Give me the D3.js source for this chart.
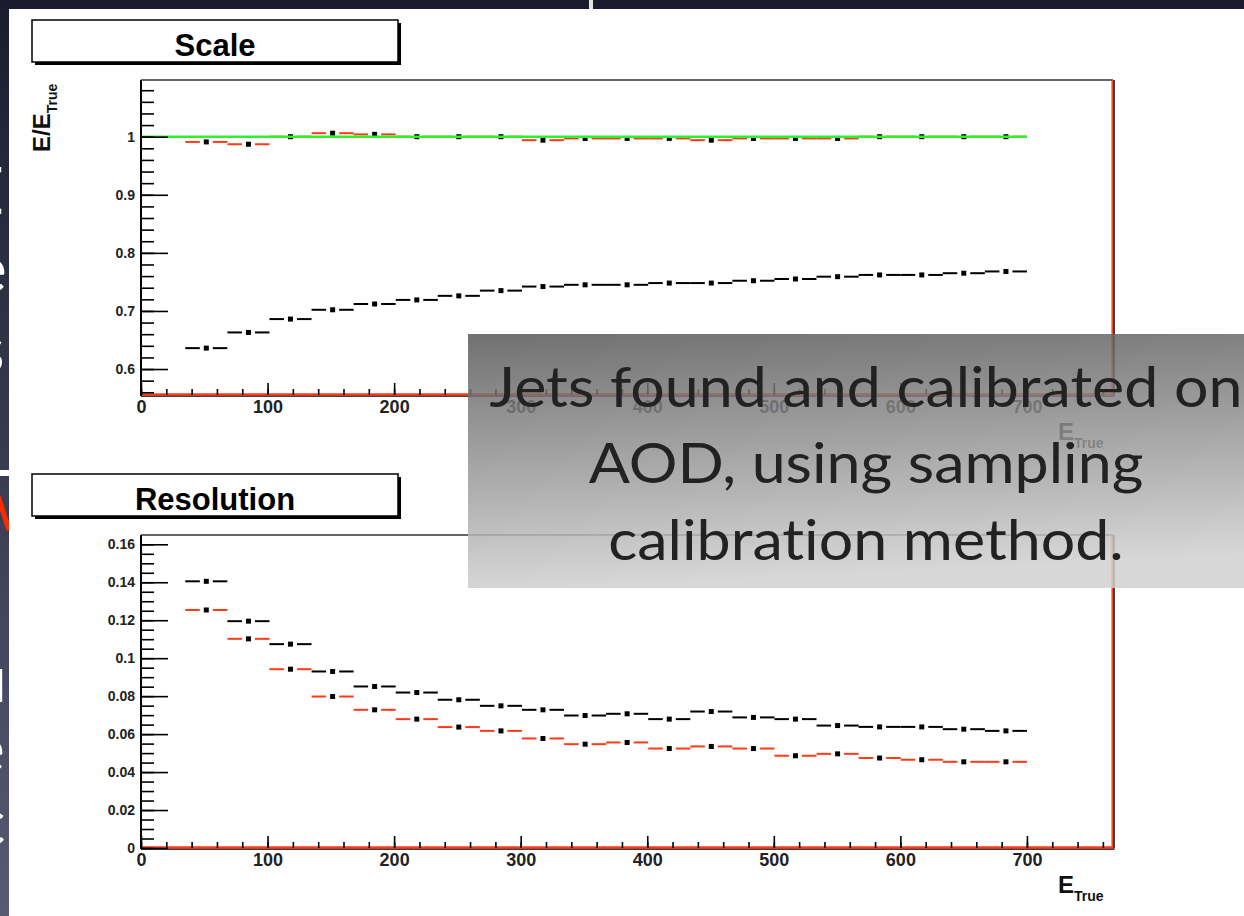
<!DOCTYPE html>
<html lang="en">
<head>
<meta charset="UTF-8">
<title>Jet energy scale and resolution</title>
<script src="https://cdn.jsdelivr.net/npm/d3@7/dist/d3.min.js"></script>
<style>
    body { margin: 0; background: #1d1f33; }
    svg { display: block; }
    .root text { font-family: "Liberation Sans", Arial, Helvetica, sans-serif; }
</style>
</head>
<body>
<script>
    // bins of E_True (centres), every bin is 33.25 wide, 35 .. 700
    const binCenters = [51.6, 84.9, 118.1, 151.4, 184.6, 217.9, 251.1, 284.4, 317.6, 350.9,
                        384.1, 417.4, 450.6, 483.9, 517.1, 550.4, 583.6, 616.9, 650.1, 683.4];
    const binWidth = 33.25;

    // Scale: E/E_True
    const scaleCalibrated = [0.991, 0.987, 1.0, 1.006, 1.004, 1.0, 1.0, 1.0, 0.994, 0.997,
                             0.997, 0.997, 0.994, 0.997, 0.997, 0.997, 1.0, 1.0, 1.0, 1.0];
    const scaleUncalibrated = [0.636, 0.663, 0.686, 0.702, 0.712, 0.719, 0.726, 0.735, 0.742, 0.745,
                               0.745, 0.748, 0.748, 0.752, 0.755, 0.759, 0.762, 0.762, 0.765, 0.768];
    const scaleReference = [{ x: 0, y: 1 }, { x: 700, y: 1 }];

    // Resolution
    const resUncalibrated = [0.1405, 0.1195, 0.1074, 0.0930, 0.0851, 0.0819, 0.0781, 0.0749, 0.0728, 0.0698,
                             0.0707, 0.0679, 0.0719, 0.0688, 0.0679, 0.0645, 0.0638, 0.0638, 0.0626, 0.0617];
    const resCalibrated = [0.1254, 0.1102, 0.0942, 0.0798, 0.0728, 0.0679, 0.0637, 0.0617, 0.0577, 0.0547,
                           0.0556, 0.0524, 0.0535, 0.0524, 0.0486, 0.0496, 0.0474, 0.0465, 0.0454, 0.0454];

    // axis ticks
    const xMajor = [0, 100, 200, 300, 400, 500, 600, 700];
    const scaleYMajor = [0.6, 0.7, 0.8, 0.9, 1];
    const resYMajor = [0, 0.02, 0.04, 0.06, 0.08, 0.1, 0.12, 0.14, 0.16];

    const noteLines = ["Jets found and calibrated on", "AOD, using sampling", "calibration method."];

    const W = 1244, H = 916;
    const RED = "#ff3a17", GREEN = "#2ef02e";

    const svg = d3.select("body").append("svg")
        .attr("width", W).attr("height", H);

    // slide background behind the pasted plots
    const defs = svg.append("defs");
    const bg = defs.append("linearGradient").attr("id", "slidebg")
        .attr("x1", 0).attr("y1", 0).attr("x2", 0).attr("y2", 1);
    bg.append("stop").attr("offset", "0%").attr("stop-color", "#1a1c2e");
    bg.append("stop").attr("offset", "100%").attr("stop-color", "#575a72");
    svg.append("rect").attr("width", W).attr("height", H).attr("fill", "url(#slidebg)");

    // bits of the slide text peeking out on the left
    const peek = [["E", -34, 214], ["e", -28, 292], ["s", -24, 372], ["u", -30, 702], ["e", -30, 772], ["c", -26, 845]];
    svg.selectAll(".peek").data(peek).enter().append("text")
        .attr("x", d => d[1]).attr("y", d => d[2])
        .text(d => d[0])
        .attr("fill", "#fff")
        .style("font-family", "Lato, sans-serif")
        .style("font-size", "66px");
    svg.append("rect").attr("x", 0).attr("y", 470).attr("width", 9).attr("height", 6).attr("fill", "#fff");
    svg.append("line").attr("x1", -2).attr("y1", 496).attr("x2", 9).attr("y2", 530)
        .attr("stroke", "#ff2a00").attr("stroke-width", 5);
    svg.append("rect").attr("x", 589).attr("y", 0).attr("width", 4).attr("height", 9).attr("fill", "#e6e6e6");

    // white pasted image
    svg.append("rect").attr("x", 9).attr("y", 9).attr("width", W - 9).attr("height", H - 9).attr("fill", "#fff");

    const x = d3.scaleLinear().domain([0, 768]).range([141, 1113]);

    function drawPanel(p) {
        const g = svg.append("g").attr("class", "root");
        const y = d3.scaleLinear().domain(p.yDomain).range([p.bottom, p.top]);

        // title box with shadow
        g.append("rect").attr("x", 35).attr("y", p.titleY + 3).attr("width", 366).attr("height", 42).attr("fill", "#000");
        g.append("rect").attr("x", 32).attr("y", p.titleY).attr("width", 366).attr("height", 42)
            .attr("fill", "#fff").attr("stroke", "#000").attr("stroke-width", 1.5);
        g.append("text").attr("x", 215).attr("y", p.titleY + 36)
            .attr("text-anchor", "middle")
            .style("font-size", "31px").style("font-weight", "bold")
            .text(p.title);

        // histograms drawn as error bars: horizontal bin line with a gap round the marker
        const gap = 6.5;
        p.series.forEach(s => {
            const pts = binCenters.map((c, i) => ({ c: c, v: s.values[i] }));
            const sg = g.append("g");
            sg.selectAll(".lo").data(pts).enter().append("line")
                .attr("x1", d => x(d.c - binWidth / 2)).attr("x2", d => x(d.c) - gap)
                .attr("y1", d => y(d.v)).attr("y2", d => y(d.v))
                .attr("stroke", s.color).attr("stroke-width", 2);
            sg.selectAll(".hi").data(pts).enter().append("line")
                .attr("x1", d => x(d.c) + gap).attr("x2", d => x(d.c + binWidth / 2))
                .attr("y1", d => y(d.v)).attr("y2", d => y(d.v))
                .attr("stroke", s.color).attr("stroke-width", 2);
            sg.selectAll("rect").data(pts).enter().append("rect")
                .attr("x", d => x(d.c) - 2.5).attr("y", d => y(d.v) - 2.5)
                .attr("width", 5).attr("height", 5).attr("fill", "#000");
        });

        if (p.reference) {
            const line = d3.line().x(d => x(d.x)).y(d => y(d.y));
            g.append("path").datum(p.reference).attr("d", line)
                .attr("fill", "none").attr("stroke", GREEN).attr("stroke-width", 2.5);
        }

        // frame
        g.append("line").attr("x1", x(0)).attr("x2", x(768)).attr("y1", p.top).attr("y2", p.top)
            .attr("stroke", "#333").attr("stroke-width", 1.5);
        g.append("line").attr("x1", x(768) + 1).attr("x2", x(768) + 1).attr("y1", p.top).attr("y2", p.bottom)
            .attr("stroke", "#000").attr("stroke-width", 1.5);
        g.append("line").attr("x1", x(768) - 0.8).attr("x2", x(768) - 0.8).attr("y1", p.top).attr("y2", p.bottom)
            .attr("stroke", RED).attr("stroke-width", 1.5);
        g.append("line").attr("x1", x(0)).attr("x2", x(768) + 1.5).attr("y1", p.bottom + 1).attr("y2", p.bottom + 1)
            .attr("stroke", "#000").attr("stroke-width", 1.5);
        g.append("line").attr("x1", x(0)).attr("x2", x(768)).attr("y1", p.bottom - 0.5).attr("y2", p.bottom - 0.5)
            .attr("stroke", RED).attr("stroke-width", 2.5);
        g.append("line").attr("x1", x(0)).attr("x2", x(0)).attr("y1", p.top).attr("y2", p.bottom + 1)
            .attr("stroke", "#000").attr("stroke-width", 2);

        // y axis, ticks pointing inwards
        const yMinor = p.yMinor.filter(v => v >= p.yDomain[0] && v <= p.yDomain[1]);
        g.append("g").attr("transform", `translate(${x(0)},0)`)
            .call(d3.axisLeft(y).tickValues(yMinor).tickSize(-13).tickFormat(""))
            .call(a => a.select(".domain").remove())
            .call(a => a.selectAll("line").attr("stroke", "#000").attr("stroke-width", 1.6));
        g.append("g").attr("transform", `translate(${x(0)},0)`)
            .call(d3.axisLeft(y).tickValues(p.yMajor).tickSize(-27).tickPadding(6).tickFormat(d3.format("~g")))
            .call(a => a.select(".domain").remove())
            .call(a => a.selectAll("line").attr("stroke", "#000").attr("stroke-width", 1.6))
            .call(a => a.selectAll("text").attr("fill", "#222")
                .style("font-family", "'Liberation Sans', Arial, sans-serif")
                .style("font-size", "14px").style("font-weight", "bold"));

        // x axis
        g.append("g").attr("transform", `translate(0,${p.bottom})`)
            .call(d3.axisBottom(x).tickValues(d3.range(0, 39).map(i => i * 20)).tickSize(-6).tickFormat(""))
            .call(a => a.select(".domain").remove())
            .call(a => a.selectAll("line").attr("stroke", "#000").attr("stroke-width", 1.6));
        g.append("g").attr("transform", `translate(0,${p.bottom})`)
            .call(d3.axisBottom(x).tickValues(xMajor).tickSize(-12).tickPadding(5))
            .call(a => a.select(".domain").remove())
            .call(a => a.selectAll("line").attr("stroke", "#000").attr("stroke-width", 1.6))
            .call(a => a.selectAll("text").attr("fill", "#222")
                .style("font-family", "'Liberation Sans', Arial, sans-serif")
                .style("font-size", "18px").style("font-weight", "bold"));

        // x title
        const xt = g.append("text").attr("x", 1058).attr("y", p.bottom + 45)
            .style("font-size", "24px").style("font-weight", "bold").attr("fill", "#111");
        xt.append("tspan").text("E");
        xt.append("tspan").attr("dy", 8).style("font-size", "14px").text("True");

        if (p.yTitle) {
            const yt = g.append("text").attr("transform", `translate(50,152) rotate(-90)`)
                .style("font-size", "24px").style("font-weight", "bold").attr("fill", "#111");
            yt.append("tspan").text("E/E");
            yt.append("tspan").attr("dy", 7).style("font-size", "14px").text("True");
        }
    }

    drawPanel({
        title: "Scale", titleY: 20, top: 80, bottom: 395,
        yDomain: [0.5553, 1.0976], yMajor: scaleYMajor,
        yMinor: d3.range(27, 56).map(i => +(i * 0.02).toFixed(2)),
        yTitle: true,
        series: [
            { values: scaleUncalibrated, color: "#000" },
            { values: scaleCalibrated, color: RED }
        ],
        reference: scaleReference
    });

    drawPanel({
        title: "Resolution", titleY: 474, top: 535, bottom: 848,
        yDomain: [0, 0.1649], yMajor: resYMajor,
        yMinor: d3.range(0, 34).map(i => +(i * 0.005).toFixed(3)),
        yTitle: false,
        series: [
            { values: resUncalibrated, color: "#000" },
            { values: resCalibrated, color: RED }
        ]
    });

    // translucent note box on top of the plots
    const ng = defs.append("linearGradient").attr("id", "notebg")
        .attr("x1", 0).attr("y1", 0).attr("x2", 0.15).attr("y2", 1);
    ng.append("stop").attr("offset", "0%").attr("stop-color", "#565656");
    ng.append("stop").attr("offset", "100%").attr("stop-color", "#d0d0d0");
    svg.append("rect").attr("x", 468).attr("y", 334).attr("width", W - 468).attr("height", 254)
        .attr("fill", "url(#notebg)").attr("opacity", 0.84);

    const note = svg.append("g");
    const noteY = [407, 483, 560];
    const nt = note.selectAll("text").data(noteLines).enter().append("text")
        .attr("x", 0).attr("y", 0)
        .attr("text-anchor", "middle")
        .attr("fill", "#222")
        .style("font-family", "Lato, 'Open Sans', sans-serif")
        .style("font-variant-ligatures", "none")
        .style("font-size", "56px")
        .text(d => d);
    // squeeze horizontally so the first line spans the same width as on the slide
    const len = nt.node().getComputedTextLength();
    const sx = 753 / len;
    nt.attr("transform", (d, i) => `translate(866,${noteY[i]}) scale(${sx.toFixed(3)},1)`);
</script>
</body>
</html>
